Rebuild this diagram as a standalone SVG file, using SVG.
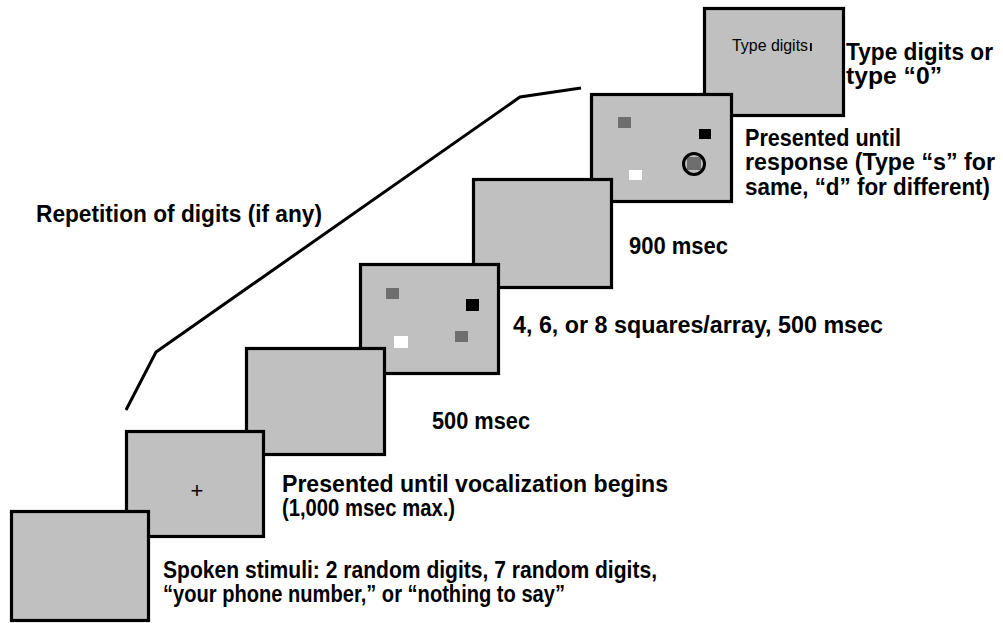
<svg xmlns="http://www.w3.org/2000/svg" width="1003" height="623" viewBox="0 0 1003 623">
<style>
.box{fill:#c0c0c0;stroke:#000;stroke-width:3.2}
.lbl{font-family:"Liberation Sans",Arial,Helvetica,sans-serif;font-weight:bold;font-size:23.5px;fill:#000}
.sm{font-family:"Liberation Sans",Arial,Helvetica,sans-serif;font-size:16.5px;fill:#000}
.g{fill:#6e6e6e}
.k{fill:#000}
.w{fill:#fff}
.conn{fill:none;stroke:#000;stroke-width:3;stroke-linejoin:miter}
</style>
<rect width="1003" height="623" fill="#fff"/>
<g id="connectors">
<polyline class="conn" points="126,410 156,352 520,97 581,88"/>
</g>
<g id="screen7">
<rect class="box" x="704.5" y="8.5" width="139" height="107"/>
<text class="sm" x="732" y="51" textLength="76" lengthAdjust="spacingAndGlyphs">Type digits</text>
<rect class="k" x="810" y="43" width="1.8" height="8"/>
</g>
<g id="screen6">
<rect class="box" x="591.5" y="94.5" width="140" height="107"/>
<rect class="g" x="618" y="117" width="13" height="11"/>
<rect class="k" x="699" y="129" width="12" height="10"/>
<rect class="w" x="629" y="170" width="13" height="10"/>
<rect class="g" x="687" y="157" width="14" height="13"/>
<circle cx="694" cy="164" r="10.5" fill="none" stroke="#000" stroke-width="3"/>
</g>
<g id="screen5">
<rect class="box" x="473.5" y="179.5" width="138" height="108"/>
</g>
<g id="screen4">
<rect class="box" x="360.5" y="264.5" width="138" height="109"/>
<rect class="g" x="386" y="288" width="13" height="11"/>
<rect class="k" x="466" y="299" width="13" height="12"/>
<rect class="w" x="394" y="336" width="14" height="12"/>
<rect class="g" x="455" y="331" width="13" height="11"/>
</g>
<g id="screen3">
<rect class="box" x="246.5" y="348.5" width="138" height="106"/>
</g>
<g id="screen2">
<rect class="box" x="126.5" y="431.5" width="137" height="105"/>
<text class="sm" x="197" y="498" text-anchor="middle" style="font-size:22px">+</text>
</g>
<g id="screen1">
<rect class="box" x="11.5" y="511.5" width="137" height="109"/>
</g>
<g id="labels">
<text class="lbl" x="36" y="222" textLength="286" lengthAdjust="spacingAndGlyphs">Repetition of digits (if any)</text>
<text class="lbl" x="846" y="60" textLength="147" lengthAdjust="spacingAndGlyphs">Type digits or</text>
<text class="lbl" x="846" y="84" textLength="96" lengthAdjust="spacingAndGlyphs">type “0”</text>
<text class="lbl" x="745" y="146" textLength="156" lengthAdjust="spacingAndGlyphs">Presented until</text>
<text class="lbl" x="745" y="170" textLength="250" lengthAdjust="spacingAndGlyphs">response (Type “s” for</text>
<text class="lbl" x="745" y="195" textLength="245" lengthAdjust="spacingAndGlyphs">same, “d” for different)</text>
<text class="lbl" x="629" y="254" textLength="99" lengthAdjust="spacingAndGlyphs">900 msec</text>
<text class="lbl" x="513" y="333" textLength="370" lengthAdjust="spacingAndGlyphs">4, 6, or 8 squares/array, 500 msec</text>
<text class="lbl" x="432" y="429" textLength="98" lengthAdjust="spacingAndGlyphs">500 msec</text>
<text class="lbl" x="282" y="492" textLength="386" lengthAdjust="spacingAndGlyphs">Presented until vocalization begins</text>
<text class="lbl" x="282" y="516" textLength="173" lengthAdjust="spacingAndGlyphs">(1,000 msec max.)</text>
<text class="lbl" x="163" y="578" textLength="494" lengthAdjust="spacingAndGlyphs">Spoken stimuli: 2 random digits, 7 random digits,</text>
<text class="lbl" x="163" y="602" textLength="402" lengthAdjust="spacingAndGlyphs">“your phone number,” or “nothing to say”</text>
</g>
</svg>
